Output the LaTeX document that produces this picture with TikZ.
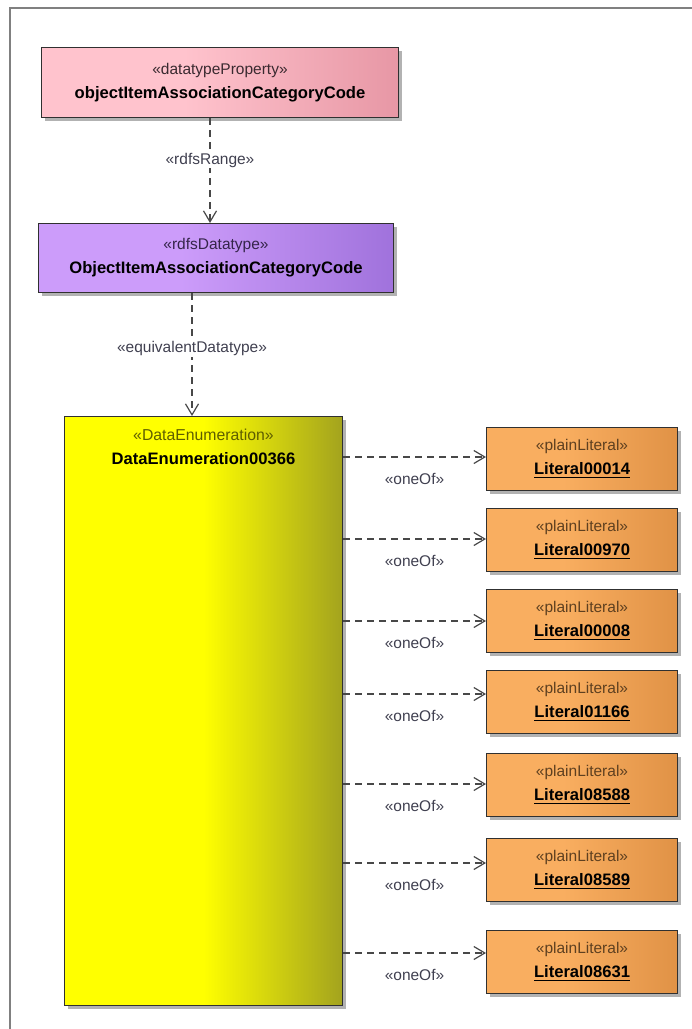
\documentclass[tikz,border=0pt]{standalone}
\usepackage{fontspec}
\setmainfont{Liberation Sans}
\usetikzlibrary{arrows.meta,shadows}
\definecolor{pinkL}{HTML}{FFC3CD}
\definecolor{pinkR}{HTML}{E797A5}
\definecolor{purL}{HTML}{CC9CFA}
\definecolor{purR}{HTML}{A072DC}
\definecolor{oraL}{HTML}{F9AE60}
\definecolor{oraR}{HTML}{E09246}
\definecolor{yelL}{HTML}{FFFF00}
\definecolor{yelR}{HTML}{A3A31E}
\definecolor{boxline}{HTML}{303030}
\definecolor{stPink}{HTML}{3A2A30}
\definecolor{stPur}{HTML}{35254A}
\definecolor{stYel}{HTML}{5E5E00}
\definecolor{stOra}{HTML}{5E4020}
\definecolor{labc}{HTML}{404050}
\definecolor{linec}{HTML}{484848}
\definecolor{framec}{HTML}{808080}
\pgfdeclarehorizontalshading{pinksh}{100bp}{color(0bp)=(pinkL); color(25bp)=(pinkL); color(45bp)=(pinkL); color(75bp)=(pinkR); color(100bp)=(pinkR)}
\pgfdeclarehorizontalshading{pursh}{100bp}{color(0bp)=(purL); color(25bp)=(purL); color(45bp)=(purL); color(75bp)=(purR); color(100bp)=(purR)}
\pgfdeclarehorizontalshading{orash}{100bp}{color(0bp)=(oraL); color(25bp)=(oraL); color(45bp)=(oraL); color(75bp)=(oraR); color(100bp)=(oraR)}
\pgfdeclarehorizontalshading{yelsh}{100bp}{color(0bp)=(yelL); color(25bp)=(yelL); color(50bp)=(yelL); color(75bp)=(yelR); color(100bp)=(yelR)}
\newcommand\namefont{\fontsize{16.6}{24}\selectfont\bfseries\color{black}}
\newcommand\ulbox[1]{\setbox0\hbox{#1}\rlap{\rule[-3.6pt]{\wd0}{1.3pt}}\box0}
\tikzset{
  box/.style 2 args={draw=boxline, line width=1pt, shade, shading=#1, shading angle=0,
    inner sep=0pt, align=center, text=#2, font=\fontsize{15.5}{24}\selectfont,
    drop shadow={shadow xshift=3pt, shadow yshift=-3pt, fill=black, opacity=0.3}},
  dep/.style={draw=linec, line width=1.2pt, dash pattern=on 7pt off 5pt,
    -{Straight Barb[length=11pt,width=13pt,line width=1.2pt]}},
  lab/.style={font=\fontsize{15.5}{18}\selectfont, text=labc, inner sep=1pt},
}
\begin{document}
\begin{tikzpicture}[x=1pt,y=-1pt]
\useasboundingbox (0,0) rectangle (692,1029);
\draw[framec, line width=1.6pt] (10,1029) -- (10,8) -- (692,8);

\node[box={pinksh}{stPink}, minimum width=357pt, minimum height=70pt, anchor=north west]
  (prop) at (41,47) {«datatypeProperty»\\{\namefont objectItemAssociationCategoryCode}};
\node[box={pursh}{stPur}, minimum width=355pt, minimum height=69pt, anchor=north west]
  (dt) at (38,223) {«rdfsDatatype»\\{\namefont ObjectItemAssociationCategoryCode}};
\node[box={yelsh}{stYel}, minimum width=278pt, minimum height=589pt, anchor=north west]
  (enum) at (64,416) {};
\node[anchor=north, align=center, inner sep=0pt, text=stYel, font=\fontsize{15.8}{24}\selectfont]
  (enumtxt) at ([yshift=-13pt]enum.north) {«DataEnumeration»\\{\namefont DataEnumeration00366}};

\coordinate (a1) at (210,0);
\coordinate (a2) at (192,0);
\draw[dep] (prop.south -| a1) -- (dt.north -| a1)
  node[lab, pos=0.4, fill=white] {«rdfsRange»};
\draw[dep] (dt.south -| a2) -- (enum.north -| a2)
  node[lab, pos=0.45, fill=white] {«equivalentDatatype»};

\foreach \n/\t/\lit/\ay in {1/427/00014/457, 2/508/00970/539, 3/589/00008/621,
    4/670/01166/694, 5/753/08588/784, 6/838/08589/863, 7/930/08631/953}{
  \node[box={orash}{stOra}, minimum width=191pt, minimum height=63pt, anchor=north west]
    (lit\n) at (486,\t) {«plainLiteral»\\{\namefont\ulbox{Literal\lit}}};
  \coordinate (r\n) at (0,\ay);
  \draw[dep] (enum.east |- r\n) -- (lit\n.west |- r\n)
    node[lab, midway, yshift=-22pt] {«oneOf»};
}
\end{tikzpicture}
\end{document}
